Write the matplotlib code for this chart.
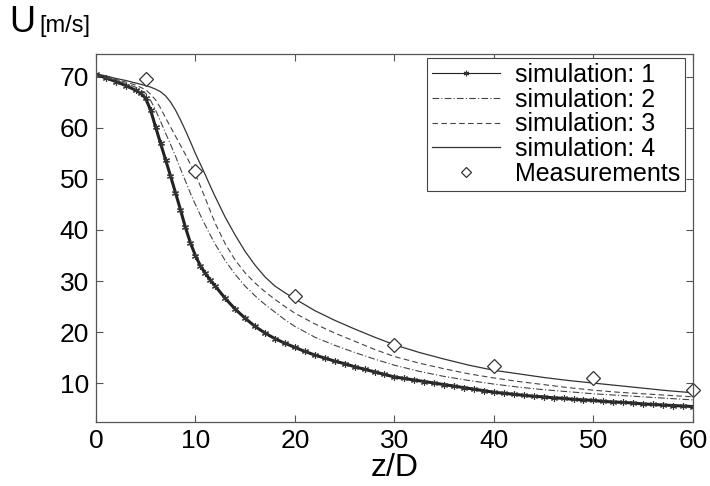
import numpy as np
import matplotlib
matplotlib.use("Agg")
import matplotlib.pyplot as plt

plt.rcParams['font.family'] = ['Liberation Sans', 'DejaVu Sans']

# simulation 1 (dense output, asterisk markers)
z_sim1 = [0, 1, 2, 3, 4, 4.5, 5, 5.5, 6, 6.5, 7, 7.5, 8, 8.5, 9, 9.5, 10, 10.5, 11, 11.5,
          12, 13, 14, 15, 16, 17, 18, 19, 20, 21, 22, 23, 24, 25, 26, 27, 28, 29, 30,
          31, 32, 33, 34, 35, 36, 37, 38, 39, 40, 41, 42, 43, 44, 45, 46, 47, 48, 49, 50,
          51, 52, 53, 54, 55, 56, 57, 58, 59, 60]
u_sim1 = [70.5, 69.8, 69.1, 68.3, 67.4, 66.8, 65.8, 63.5, 60.2, 57.0, 53.8, 50.6, 47.3, 44.0,
          40.5, 37.5, 35.0, 33.0, 31.5, 30.2, 29.0, 26.6, 24.5, 22.7, 21.1, 19.8, 18.7, 17.8,
          17.0, 16.2, 15.5, 14.9, 14.3, 13.8, 13.2, 12.7, 12.2, 11.7, 11.2, 10.9, 10.6, 10.3,
          10.0, 9.7, 9.4, 9.1, 8.8, 8.5, 8.2, 8.0, 7.8, 7.6, 7.4, 7.3, 7.1, 7.0, 6.8, 6.7,
          6.6, 6.4, 6.3, 6.2, 6.1, 5.9, 5.8, 5.7, 5.6, 5.5, 5.4]

# simulations 2-4
z_sim = [0, 1, 2, 3, 4, 5, 5.5, 6, 6.5, 7, 7.5, 8, 8.5, 9, 9.5, 10, 10.5, 11, 11.5, 12,
         13, 14, 15, 16, 17, 18, 19, 20, 22, 24, 26, 28, 30, 32.5, 35, 37.5, 40, 42.5,
         45, 47.5, 50, 52.5, 55, 57.5, 60]
u_sim2 = [70.5, 69.9, 69.3, 68.7, 68.0, 66.8, 65.4, 63.5, 61.3, 59.0, 56.8, 54.5, 52.0,
          49.6, 47.2, 45.0, 42.9, 40.9, 39.0, 37.2, 34.0, 31.3, 29.0, 27.1, 25.4, 23.9,
          22.4, 21.1, 19.0, 17.4, 16.0, 14.7, 13.5, 12.3, 11.3, 10.5, 9.8, 9.2, 8.7, 8.3,
          7.9, 7.6, 7.3, 7.0, 6.7]
u_sim3 = [70.5, 70.0, 69.5, 69.0, 68.4, 67.5, 66.6, 65.5, 63.9, 62.0, 60.2, 58.4, 56.6,
          54.8, 52.9, 51.0, 48.6, 46.2, 43.7, 41.3, 37.3, 34.1, 31.6, 29.6, 27.9, 26.4,
          25.0, 23.7, 21.6, 19.8, 18.2, 16.6, 15.2, 13.9, 12.8, 11.8, 11.0, 10.3, 9.7, 9.1,
          8.6, 8.2, 7.9, 7.6, 7.3]
u_sim4 = [70.6, 70.2, 69.7, 69.3, 68.8, 68.3, 68.0, 67.6, 67.1, 66.3, 65.1, 63.5, 61.6,
          59.5, 57.3, 55.0, 52.9, 50.8, 48.6, 46.5, 42.5, 39.0, 35.8, 33.1, 30.8, 29.0,
          27.7, 26.5, 24.2, 22.3, 20.6, 19.0, 17.5, 16.0, 14.7, 13.5, 12.5, 11.8, 11.1,
          10.5, 10.0, 9.5, 9.0, 8.5, 8.1]

# measurements
z_meas = [5, 10, 20, 30, 40, 50, 60]
u_meas = [69.5, 51.5, 27.0, 17.4, 13.4, 11.0, 8.6]

fig = plt.figure(figsize=(7.1, 4.86), dpi=100)
ax = fig.add_axes([0.135, 0.132, 0.841, 0.757])

ax.plot(z_sim1, u_sim1, color='#222222', lw=2.2, marker=(6, 2, 0), ms=5, mew=0.8,
        mec='#333333', label='simulation: 1')
ax.plot(z_sim, u_sim2, color='#444444', lw=0.8, ls=(0, (6, 2, 1, 2)), label='simulation: 2')
ax.plot(z_sim, u_sim3, color='#444444', lw=0.8, ls=(0, (5, 3)), label='simulation: 3')
ax.plot(z_sim, u_sim4, color='#333333', lw=0.9, ls='-', label='simulation: 4')
ax.plot(z_meas, u_meas, ls='none', marker='D', ms=7, mfc='white', mec='#333333', mew=0.9,
        label='Measurements', clip_on=False)

ax.set_xlim(0, 60)
ax.set_ylim(2.4, 74.5)
ax.set_xticks([0, 10, 20, 30, 40, 50, 60])
ax.set_yticks([10, 20, 30, 40, 50, 60, 70])
ax.tick_params(direction='in', top=True, right=True, length=5, width=0.8,
               labelsize=19, colors='#555555', labelcolor='black')
ax.tick_params(axis='y', pad=5)
ax.tick_params(axis='x', pad=5)
for s in ax.spines.values():
    s.set_color('#555555')
    s.set_linewidth(0.9)

ax.set_xlabel('z/D', fontsize=23, labelpad=0)
fig.text(0.013, 0.935, 'U', fontsize=26, va='baseline')
fig.text(0.056, 0.935, '[m/s]', fontsize=17, va='baseline')

leg = ax.legend(loc='upper right', bbox_to_anchor=(0.9866, 0.989), fontsize=18,
                handlelength=2.7, labelspacing=0.03, borderpad=0.2, handletextpad=0.6,
                fancybox=False, framealpha=1, borderaxespad=0)
leg.get_frame().set_edgecolor('#444444')
leg.get_frame().set_linewidth(0.8)
leg.legend_handles[0].set_linewidth(0.8)
leg.legend_handles[0].set_markersize(4)
leg.legend_handles[4].set_markersize(5)

fig.savefig('out.png', dpi=100)
